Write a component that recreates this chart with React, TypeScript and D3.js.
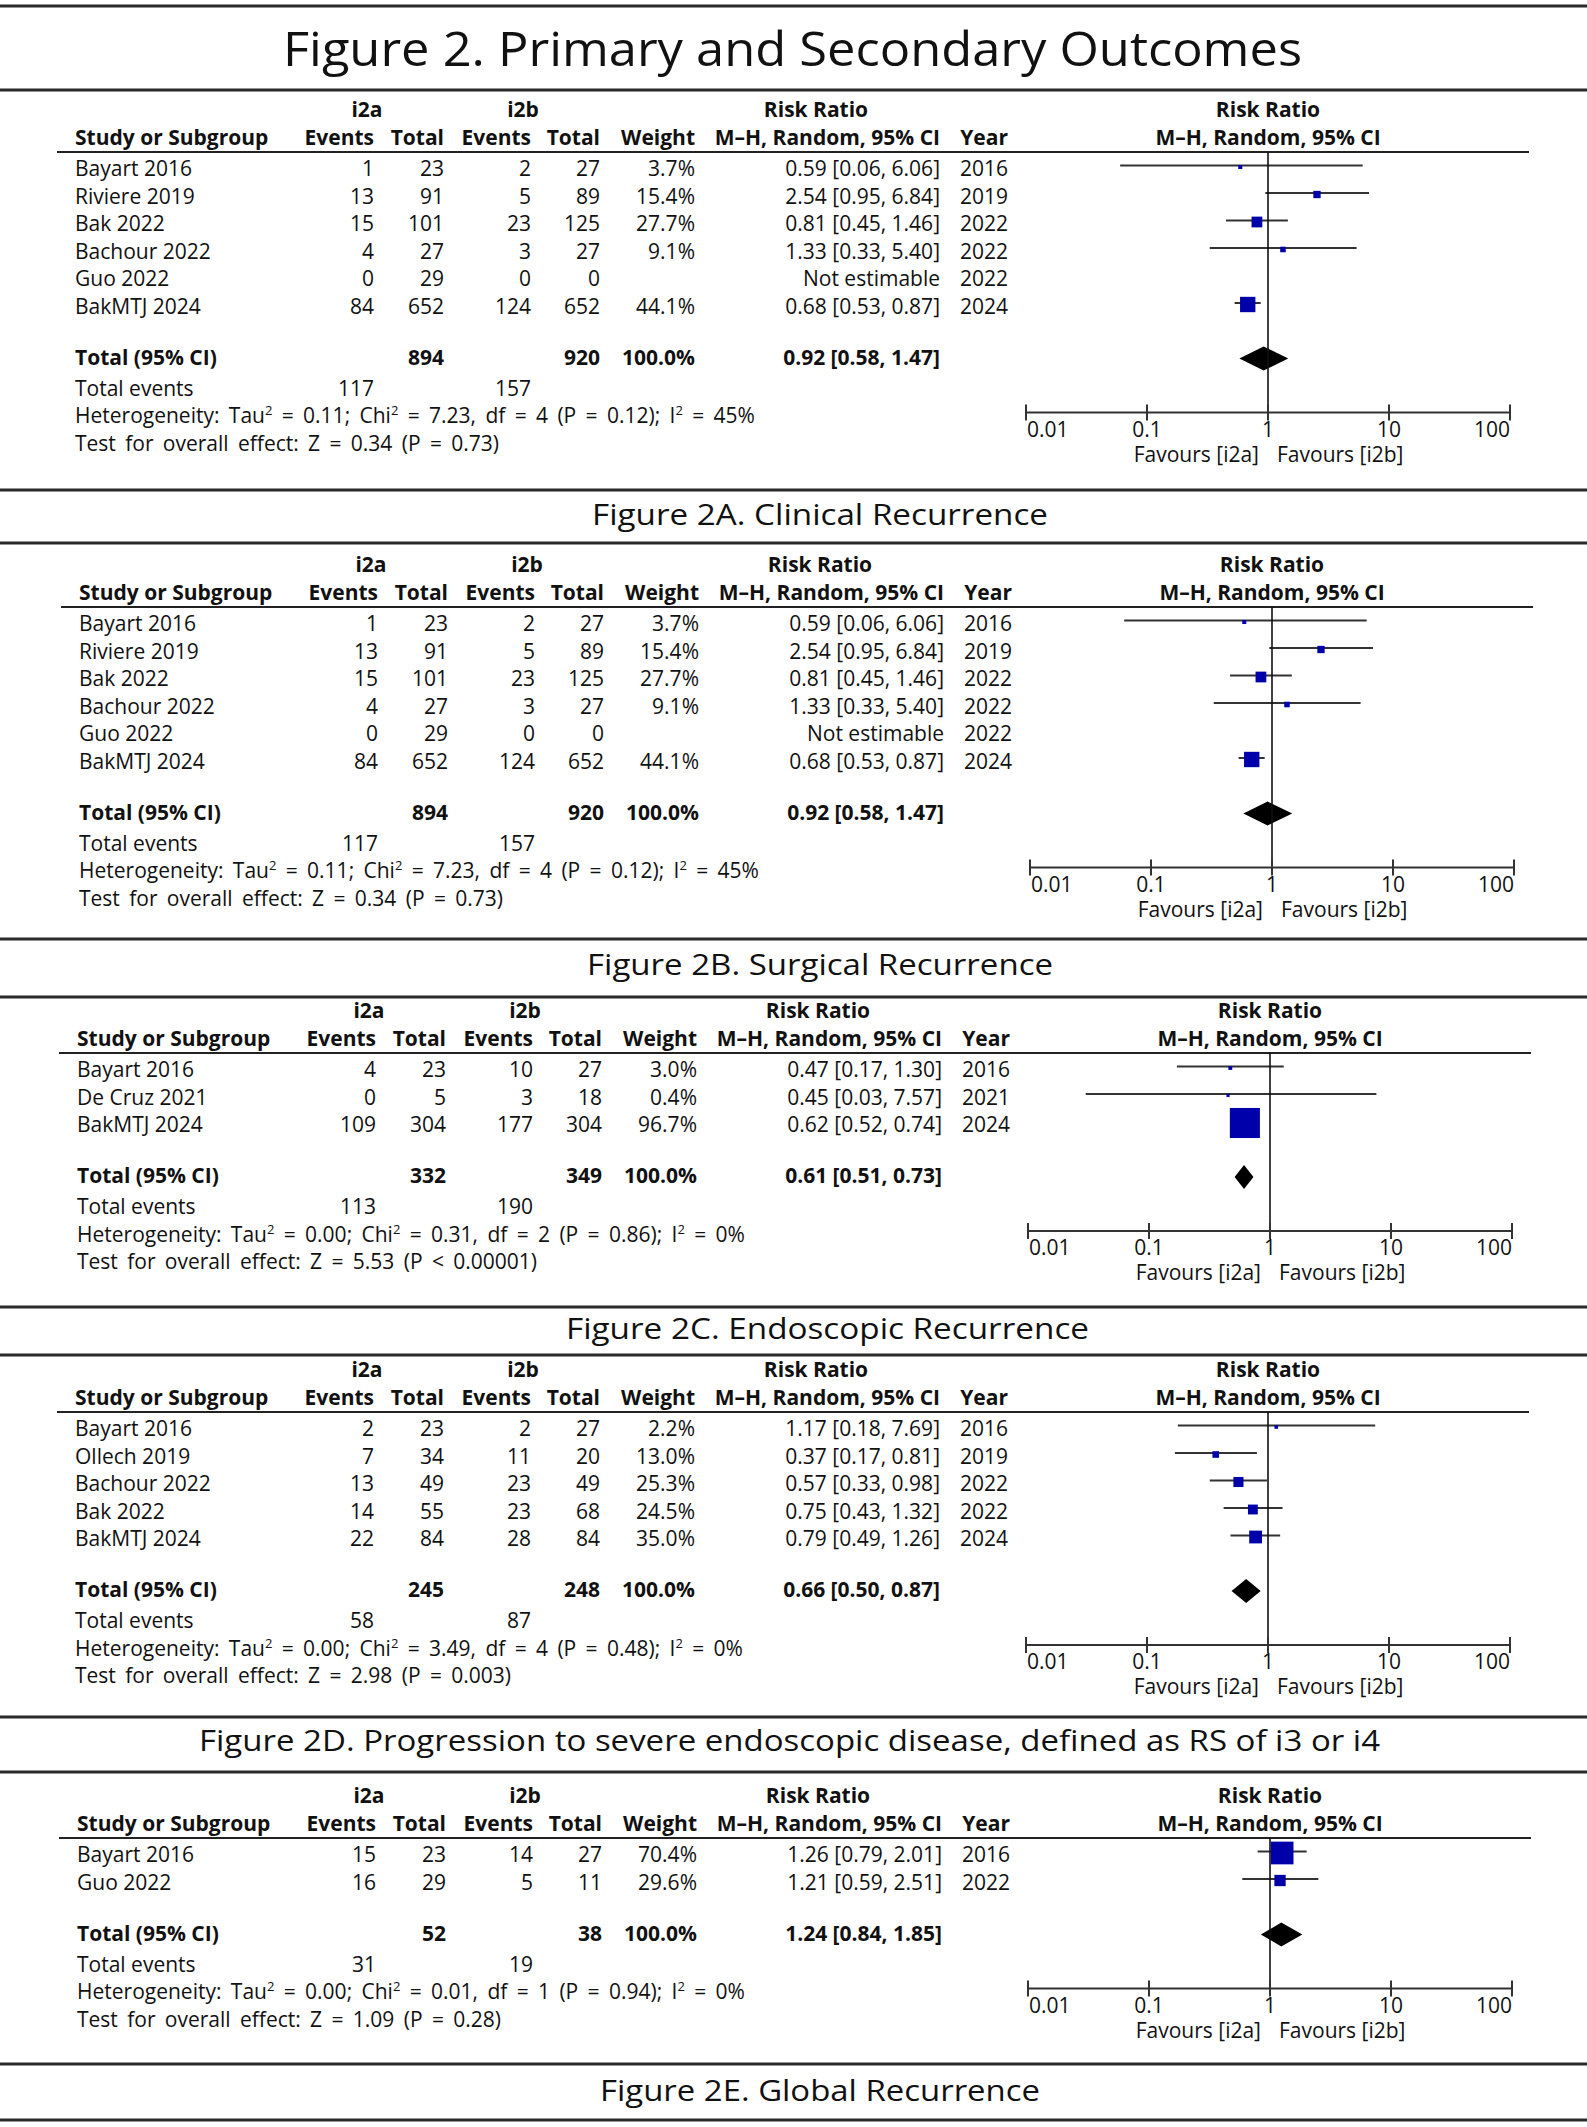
import React from "react";
import * as d3 from "d3";

type Row = {
  study: string;
  ea: number;
  na: number;
  eb: number;
  nb: number;
  weight: number | null;
  rr: number | null;
  lo: number | null;
  hi: number | null;
  year: number;
};

// ---------- DATA ----------
const clinicalRows: Row[] = [
  { study: "Bayart 2016", ea: 1, na: 23, eb: 2, nb: 27, weight: 3.7, rr: 0.59, lo: 0.06, hi: 6.06, year: 2016 },
  { study: "Riviere 2019", ea: 13, na: 91, eb: 5, nb: 89, weight: 15.4, rr: 2.54, lo: 0.95, hi: 6.84, year: 2019 },
  { study: "Bak 2022", ea: 15, na: 101, eb: 23, nb: 125, weight: 27.7, rr: 0.81, lo: 0.45, hi: 1.46, year: 2022 },
  { study: "Bachour 2022", ea: 4, na: 27, eb: 3, nb: 27, weight: 9.1, rr: 1.33, lo: 0.33, hi: 5.4, year: 2022 },
  { study: "Guo 2022", ea: 0, na: 29, eb: 0, nb: 0, weight: null, rr: null, lo: null, hi: null, year: 2022 },
  { study: "BakMTJ 2024", ea: 84, na: 652, eb: 124, nb: 652, weight: 44.1, rr: 0.68, lo: 0.53, hi: 0.87, year: 2024 },
];
const clinicalTotal = [894, 920, 100.0, 0.92, 0.58, 1.47, 117, 157];
const clinicalHet = ["0.11", "7.23", "4", "0.12", "45%"];
const clinicalTest = "Z = 0.34 (P = 0.73)";

const surgicalRows: Row[] = [
  { study: "Bayart 2016", ea: 4, na: 23, eb: 10, nb: 27, weight: 3.0, rr: 0.47, lo: 0.17, hi: 1.3, year: 2016 },
  { study: "De Cruz 2021", ea: 0, na: 5, eb: 3, nb: 18, weight: 0.4, rr: 0.45, lo: 0.03, hi: 7.57, year: 2021 },
  { study: "BakMTJ 2024", ea: 109, na: 304, eb: 177, nb: 304, weight: 96.7, rr: 0.62, lo: 0.52, hi: 0.74, year: 2024 },
];
const surgicalTotal = [332, 349, 100.0, 0.61, 0.51, 0.73, 113, 190];
const surgicalHet = ["0.00", "0.31", "2", "0.86", "0%"];
const surgicalTest = "Z = 5.53 (P < 0.00001)";

const endoRows: Row[] = [
  { study: "Bayart 2016", ea: 2, na: 23, eb: 2, nb: 27, weight: 2.2, rr: 1.17, lo: 0.18, hi: 7.69, year: 2016 },
  { study: "Ollech 2019", ea: 7, na: 34, eb: 11, nb: 20, weight: 13.0, rr: 0.37, lo: 0.17, hi: 0.81, year: 2019 },
  { study: "Bachour 2022", ea: 13, na: 49, eb: 23, nb: 49, weight: 25.3, rr: 0.57, lo: 0.33, hi: 0.98, year: 2022 },
  { study: "Bak 2022", ea: 14, na: 55, eb: 23, nb: 68, weight: 24.5, rr: 0.75, lo: 0.43, hi: 1.32, year: 2022 },
  { study: "BakMTJ 2024", ea: 22, na: 84, eb: 28, nb: 84, weight: 35.0, rr: 0.79, lo: 0.49, hi: 1.26, year: 2024 },
];
const endoTotal = [245, 248, 100.0, 0.66, 0.5, 0.87, 58, 87];
const endoHet = ["0.00", "3.49", "4", "0.48", "0%"];
const endoTest = "Z = 2.98 (P = 0.003)";

const severeRows: Row[] = [
  { study: "Bayart 2016", ea: 15, na: 23, eb: 14, nb: 27, weight: 70.4, rr: 1.26, lo: 0.79, hi: 2.01, year: 2016 },
  { study: "Guo 2022", ea: 16, na: 29, eb: 5, nb: 11, weight: 29.6, rr: 1.21, lo: 0.59, hi: 2.51, year: 2022 },
];
const severeTotal = [52, 38, 100.0, 1.24, 0.84, 1.85, 31, 19];
const severeHet = ["0.00", "0.01", "1", "0.94", "0%"];
const severeTest = "Z = 1.09 (P = 0.28)";

const axisTicks = [0.01, 0.1, 1, 10, 100];
const axisTickLabels = ["0.01", "0.1", "1", "10", "100"];
const groupLabels = ["i2a", "i2b"];
const favourLabels = ["Favours [i2a]", "Favours [i2b]"];

const mainTitle = "Figure 2. Primary and Secondary Outcomes";
const captions = [
  "Figure 2A. Clinical Recurrence",
  "Figure 2B. Surgical Recurrence",
  "Figure 2C. Endoscopic Recurrence",
  "Figure 2D. Progression to severe endoscopic disease, defined as RS of i3 or i4",
  "Figure 2E. Global Recurrence",
];

// ---------- LAYOUT ----------
const W = 1587;
const H = 2127;
const TFONT = "'Open Sans', 'Noto Sans', sans-serif";
const CFONT = "'Open Sans', 'Noto Sans', sans-serif";
const FS = 21;
const ROW_H = 27.5;
const STAT_WORD_SPACING = 3.9;

const separatorYs = [6, 90, 490, 543, 939, 997, 1307, 1355, 1717, 1772, 2064, 2120];
const titlePos = { x0: 283, x1: 1302, y: 66, size: 48 };
const captionPos = [
  { x0: 592, x1: 1048, y: 525 },
  { x0: 587, x1: 1053, y: 975 },
  { x0: 566, x1: 1089, y: 1339 },
  { x0: 199, x1: 1380, y: 1751 },
  { x0: 600, x1: 1040, y: 2101 },
];

const panels = [
  { rows: clinicalRows, total: clinicalTotal, het: clinicalHet, test: clinicalTest, top: 117, dx: 0 },
  { rows: clinicalRows, total: clinicalTotal, het: clinicalHet, test: clinicalTest, top: 572, dx: 4 },
  { rows: surgicalRows, total: surgicalTotal, het: surgicalHet, test: surgicalTest, top: 1018, dx: 2 },
  { rows: endoRows, total: endoTotal, het: endoHet, test: endoTest, top: 1377, dx: 0 },
  { rows: severeRows, total: severeTotal, het: severeHet, test: severeTest, top: 1803, dx: 2 },
];

const boxSize = d3.scaleLinear().domain([0, 100]).range([3, 31]);
const f2 = d3.format(".2f");
const f1 = d3.format(".1f");

function HetText({ x, y, het }: { x: number; y: number; het: string[] }) {
  return (
    <text x={x} y={y} fontSize={FS} fontFamily={TFONT} fill="#111" wordSpacing={STAT_WORD_SPACING}>
      <tspan>Heterogeneity: Tau</tspan>
      <tspan dy={-8} fontSize={13}>2</tspan>
      <tspan dy={8}>{` = ${het[0]}; Chi`}</tspan>
      <tspan dy={-8} fontSize={13}>2</tspan>
      <tspan dy={8}>{` = ${het[1]}, df = ${het[2]} (P = ${het[3]}); I`}</tspan>
      <tspan dy={-8} fontSize={13}>2</tspan>
      <tspan dy={8}>{` = ${het[4]}`}</tspan>
    </text>
  );
}

function Panel({ p }: { p: (typeof panels)[number] }) {
  const { rows, total, het, test, top, dx } = p;
  const studyX = 75 + dx;
  const eaR = 374 + dx;
  const naR = 444 + dx;
  const ebR = 531 + dx;
  const nbR = 600 + dx;
  const wR = 695 + dx;
  const ciR = 940 + dx;
  const yearR = 1008 + dx;
  const x = d3.scaleLog().domain([0.01, 100]).range([1026 + dx, 1510 + dx]);
  const studyY = top + 28;
  const ulY = top + 35;
  const row0 = top + 59;
  const lastRow = row0 + (rows.length - 1) * ROW_H;
  const totalY = lastRow + 51;
  const eventsY = lastRow + 82;
  const hetY = lastRow + 109.5;
  const testY = lastRow + 137;
  const axisY = lastRow + 99;
  const tickLblY = lastRow + 123;
  const favY = lastRow + 148;
  const x1 = x(1);

  const T = (props: any) => <text fontSize={FS} fontFamily={TFONT} fill="#111" {...props} />;

  return (
    <g>
      {/* headers */}
      <T x={eaR - 7} y={top} textAnchor="middle" fontWeight="bold">{groupLabels[0]}</T>
      <T x={ebR - 8} y={top} textAnchor="middle" fontWeight="bold">{groupLabels[1]}</T>
      <T x={ciR - 124} y={top} textAnchor="middle" fontWeight="bold">Risk Ratio</T>
      <T x={x1} y={top} textAnchor="middle" fontWeight="bold">Risk Ratio</T>
      <T x={studyX} y={studyY} fontWeight="bold">Study or Subgroup</T>
      <T x={eaR} y={studyY} textAnchor="end" fontWeight="bold">Events</T>
      <T x={naR} y={studyY} textAnchor="end" fontWeight="bold">Total</T>
      <T x={ebR} y={studyY} textAnchor="end" fontWeight="bold">Events</T>
      <T x={nbR} y={studyY} textAnchor="end" fontWeight="bold">Total</T>
      <T x={wR} y={studyY} textAnchor="end" fontWeight="bold">Weight</T>
      <T x={ciR} y={studyY} textAnchor="end" fontWeight="bold">M–H, Random, 95% CI</T>
      <T x={yearR} y={studyY} textAnchor="end" fontWeight="bold">Year</T>
      <T x={x1} y={studyY} textAnchor="middle" fontWeight="bold">M–H, Random, 95% CI</T>
      <line x1={57 + dx} x2={1529 + dx} y1={ulY} y2={ulY} stroke="#222" strokeWidth={2} />

      {/* rows */}
      {rows.map((r, i) => {
        const y = row0 + i * ROW_H;
        return (
          <g key={i}>
            <T x={studyX} y={y}>{r.study}</T>
            <T x={eaR} y={y} textAnchor="end">{r.ea}</T>
            <T x={naR} y={y} textAnchor="end">{r.na}</T>
            <T x={ebR} y={y} textAnchor="end">{r.eb}</T>
            <T x={nbR} y={y} textAnchor="end">{r.nb}</T>
            {r.weight !== null && <T x={wR} y={y} textAnchor="end">{f1(r.weight)}%</T>}
            <T x={ciR} y={y} textAnchor="end">
              {r.rr !== null ? `${f2(r.rr)} [${f2(r.lo as number)}, ${f2(r.hi as number)}]` : "Not estimable"}
            </T>
            <T x={yearR} y={y} textAnchor="end">{r.year}</T>
            {r.rr !== null && (
              <>
                <line x1={x(r.lo as number)} x2={x(r.hi as number)} y1={y - 10.5} y2={y - 10.5} stroke="#333" strokeWidth={2} />
                <rect
                  x={x(r.rr) - boxSize(r.weight as number) / 2}
                  y={y - 9 - boxSize(r.weight as number) / 2}
                  width={boxSize(r.weight as number)}
                  height={boxSize(r.weight as number)}
                  fill="#0000aa"
                />
              </>
            )}
          </g>
        );
      })}

      {/* total */}
      <T x={studyX} y={totalY} fontWeight="bold">Total (95% CI)</T>
      <T x={naR} y={totalY} textAnchor="end" fontWeight="bold">{total[0]}</T>
      <T x={nbR} y={totalY} textAnchor="end" fontWeight="bold">{total[1]}</T>
      <T x={wR} y={totalY} textAnchor="end" fontWeight="bold">{f1(total[2])}%</T>
      <T x={ciR} y={totalY} textAnchor="end" fontWeight="bold">{`${f2(total[3])} [${f2(total[4])}, ${f2(total[5])}]`}</T>
      <path
        d={`M${x(total[4])},${totalY - 6} L${x(total[3])},${totalY - 18} L${x(total[5])},${totalY - 6} L${x(total[3])},${totalY + 6} Z`}
        fill="#000"
      />
      <T x={studyX} y={eventsY}>Total events</T>
      <T x={eaR} y={eventsY} textAnchor="end">{total[6]}</T>
      <T x={ebR} y={eventsY} textAnchor="end">{total[7]}</T>
      <HetText x={studyX} y={hetY} het={het} />
      <T x={studyX} y={testY} wordSpacing={STAT_WORD_SPACING}>{`Test for overall effect: ${test}`}</T>

      {/* forest axis */}
      <line x1={x1} x2={x1} y1={ulY} y2={axisY} stroke="#111" strokeWidth={1.6} />
      <line x1={x(0.01)} x2={x(100)} y1={axisY} y2={axisY} stroke="#333" strokeWidth={2} />
      {axisTicks.map((t, i) => (
        <g key={t}>
          <line x1={x(t)} x2={x(t)} y1={axisY - 8} y2={axisY + 8} stroke="#333" strokeWidth={2} />
          <T
            x={i === 0 ? x(t) + 1 : x(t)}
            y={tickLblY}
            textAnchor={i === 0 ? "start" : i === axisTicks.length - 1 ? "end" : "middle"}
          >
            {axisTickLabels[i]}
          </T>
        </g>
      ))}
      <T x={x1 - 9} y={favY} textAnchor="end">{favourLabels[0]}</T>
      <T x={x1 + 9} y={favY}>{favourLabels[1]}</T>
    </g>
  );
}

export default function App() {
  return (
    <svg
      width={W}
      height={H}
      viewBox={`0 0 ${W} ${H}`}
      style={{ position: "absolute", left: 0, top: 0, background: "#fff", display: "block" }}
    >
      <rect x={0} y={0} width={W} height={H} fill="#fff" />
      {separatorYs.map((y, i) => (
        <line key={i} x1={0} x2={W} y1={y} y2={y} stroke="#2a2a2a" strokeWidth={3} />
      ))}
      <text
        x={titlePos.x0}
        y={titlePos.y}
        fontSize={titlePos.size}
        fontFamily={CFONT}
        fill="#111"
        textLength={titlePos.x1 - titlePos.x0}
        lengthAdjust="spacingAndGlyphs"
      >
        {mainTitle}
      </text>
      {captions.map((c, i) => (
        <text
          key={i}
          x={captionPos[i].x0}
          y={captionPos[i].y}
          fontSize={30}
          fontFamily={CFONT}
          fill="#111"
          textLength={captionPos[i].x1 - captionPos[i].x0}
          lengthAdjust="spacingAndGlyphs"
        >
          {c}
        </text>
      ))}
      {panels.map((p, i) => (
        <Panel key={i} p={p} />
      ))}
    </svg>
  );
}
